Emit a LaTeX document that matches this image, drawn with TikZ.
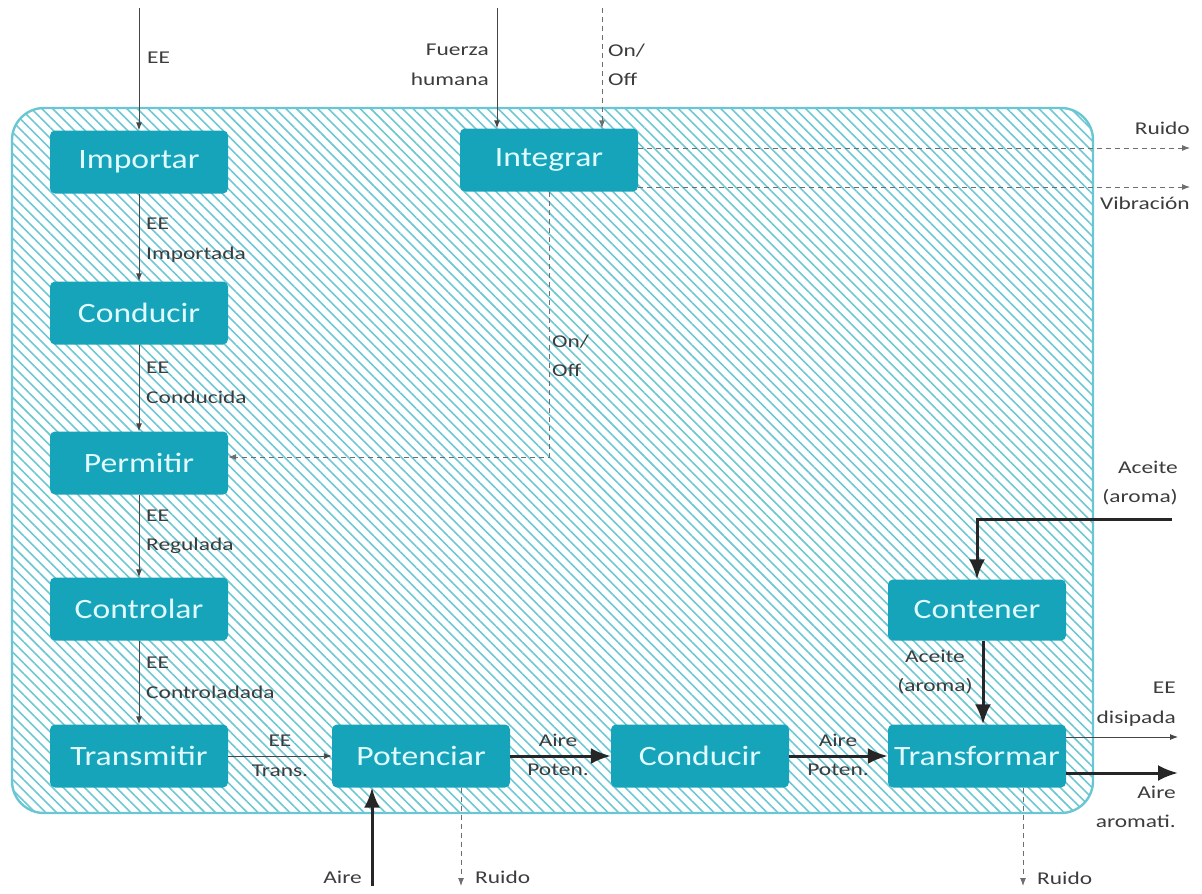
\documentclass[tikz,border=0pt]{standalone}
\usepackage{fontspec}
\setmainfont{Carlito}[FakeStretch=1.3]
\newfontfamily\boxfont{Carlito}[FakeStretch=1.2]
\usetikzlibrary{arrows.meta,patterns.meta}
\definecolor{boxteal}{RGB}{22,164,186}
\definecolor{boxtext}{RGB}{225,250,255}
\definecolor{hatch}{RGB}{110,200,212}
\definecolor{frameline}{RGB}{105,198,210}
\definecolor{lbl}{RGB}{60,60,60}
\definecolor{thinline}{RGB}{70,70,70}
\definecolor{dashline}{RGB}{110,110,110}
\begin{document}
\begin{tikzpicture}[x=1pt,y=-1pt,
 fb/.style={rectangle, rounded corners=5pt, fill=boxteal, text=boxtext,
   font=\boxfont\fontsize{28}{30}\selectfont, minimum width=178pt, minimum height=63pt, inner sep=0pt},
 lab/.style={text=lbl, font=\fontsize{18}{29.5}\selectfont, inner sep=0pt},
 thinarrow/.style={draw=thinline, line width=0.9pt, -{Latex[length=8pt,width=6pt]}},
 dasharrow/.style={draw=dashline, line width=0.9pt, dash pattern=on 5pt off 4pt, -{Latex[length=8pt,width=6pt]}},
 thickarrow/.style={draw=black!85, line width=3pt, -{Latex[length=20pt,width=16pt]}},
]
\useasboundingbox (0,0) rectangle (1202,894);
% frame
\draw[draw=frameline, line width=2.4pt, rounded corners=32pt,
  pattern={Lines[angle=-45,distance=7.5pt,line width=1.6pt]}, pattern color=hatch]
  (12,108) rectangle (1093,813);

% function boxes
\node[fb] (imp) at (139,162) {Importar};
\node[fb] (con1) at (139,313) {Conducir};
\node[fb] (per) at (139,463) {Permitir};
\node[fb] (ctl) at (139,609) {Controlar};
\node[fb] (tra) at (139,756) {Transmitir};
\node[fb] (pot) at (421,756) {Potenciar};
\node[fb] (con2) at (700,756) {Conducir};
\node[fb] (trf) at (977,756) {Transformar};
\node[fb, minimum height=61pt] (cnt) at (977,610) {Contener};
\node[fb] (int) at (549,160) {Integrar};

% free ends
\coordinate (eeIn) at (139,8);
\coordinate (fzIn) at (497,8);
\coordinate (onIn) at (602,8);
\coordinate (ruidoOut) at (1190,148);
\coordinate (vibOut) at (1190,187);
\coordinate (aceIn) at (1172,519);
\coordinate (eeOut) at (1178,737);
\coordinate (aireOut) at (1178,773);
\coordinate (aireIn) at (372,886);
\coordinate (ruidoA) at (461,886);
\coordinate (ruidoB) at (1023,886);

% connectors
\draw[thinarrow] (eeIn) -- (imp.north);
\draw[thinarrow] (imp) -- (con1);
\draw[thinarrow] (con1) -- (per);
\draw[thinarrow] (per) -- (ctl);
\draw[thinarrow] (ctl) -- (tra);
\draw[thinarrow] (tra) -- (pot);
\draw[thickarrow] (pot) -- (con2);
\draw[thickarrow] (con2) -- (trf);
\draw[thickarrow] ([xshift=6pt]cnt.south) -- ([xshift=6pt]trf.north);
\draw[thickarrow] (aceIn) -| (cnt.north);
\draw[thinarrow] (trf.east |- eeOut) -- (eeOut);
\draw[thickarrow] (trf.east |- aireOut) -- (aireOut);
\draw[thinarrow] (fzIn) -- (fzIn |- int.north);
\draw[dasharrow] (onIn) -- (onIn |- int.north);
\draw[dasharrow] (int.east |- ruidoOut) -- (ruidoOut);
\draw[dasharrow] (int.east |- vibOut) -- (vibOut);
\draw[dasharrow] (int.south) |- ([yshift=6pt]per.east);
\draw[thickarrow] (aireIn) -- (aireIn |- pot.south);
\draw[dasharrow] (ruidoA |- pot.south) -- (ruidoA);
\draw[dasharrow] (ruidoB |- trf.south) -- (ruidoB);

% labels
\node[lab, anchor=west] (lEE) at (147,58) {EE};
\node[lab, anchor=west, align=left] (l1) at (146,240) {EE\\Importada};
\node[lab, anchor=west, align=left] (l2) at (146,383) {EE\\Conducida};
\node[lab, anchor=west, align=left] (l3) at (146,532) {EE\\Regulada};
\node[lab, anchor=west, align=left] (l4) at (146,678) {EE\\Controladada};
\node[lab, align=center] (l5) at (280,756) {EE\\Trans.};
\node[lab, align=center] (l6) at (558,755) {Aire\\Poten.};
\node[lab, align=center] (l7) at (838,755) {Aire\\Poten.};
\node[lab, anchor=east, align=right] (l8) at (1176,704) {EE\\disipada};
\node[lab, anchor=east, align=right] (l9) at (1176,807) {Aire\\aromati.};
\node[lab, anchor=east, align=right] (l10) at (1178,483) {Aceite\\(aroma)};
\node[lab, align=center] (l11) at (935,672) {Aceite\\(aroma)};
\node[lab, anchor=east, align=right] (l12) at (489,65) {Fuerza\\humana};
\node[lab, anchor=west, align=left] (l13) at (608,65) {On/\\Off};
\node[lab, anchor=east] (l14) at (1190,128) {Ruido};
\node[lab, anchor=east] (l15) at (1190,203) {Vibración};
\node[lab, anchor=west, align=left] (l16) at (552,356) {On/\\Off};
\node[lab, anchor=east] (l17) at (362,877) {Aire};
\node[lab, anchor=west] (l18) at (475,877) {Ruido};
\node[lab, anchor=west] (l19) at (1037,878) {Ruido};
\end{tikzpicture}
\end{document}
